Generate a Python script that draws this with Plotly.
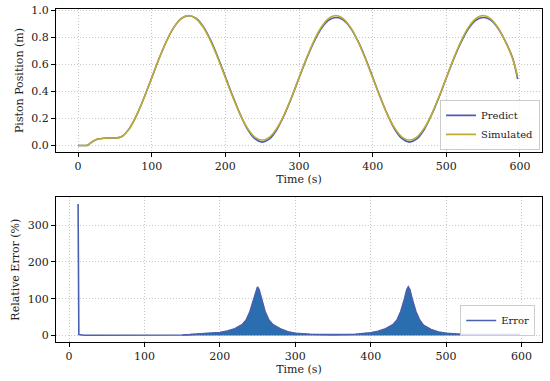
import plotly.graph_objects as go

# ---------------- data ----------------
time_pos = [0, 10, 13, 20, 25, 30, 40, 50, 55,
            60, 70, 80, 90, 100, 110, 120, 130, 140, 150,
            160, 170, 180, 190, 200, 210, 220, 230, 240, 250,
            260, 270, 280, 290, 300, 310, 320, 330, 340, 350,
            360, 370, 380, 390, 400, 410, 420, 430, 440, 450,
            460, 470, 480, 490, 500, 510, 520, 530, 540, 550,
            560, 570, 580, 590, 597]

simulated = [0.0, 0.0, 0.002, 0.030, 0.045, 0.050, 0.055, 0.055, 0.058,
             0.068, 0.128, 0.230, 0.358, 0.500, 0.642, 0.770, 0.872, 0.937, 0.960,
             0.937, 0.872, 0.770, 0.642, 0.500, 0.358, 0.230, 0.128, 0.062, 0.040,
             0.062, 0.128, 0.230, 0.358, 0.500, 0.642, 0.770, 0.872, 0.937, 0.960,
             0.937, 0.872, 0.770, 0.642, 0.500, 0.358, 0.230, 0.128, 0.062, 0.040,
             0.062, 0.128, 0.230, 0.358, 0.500, 0.642, 0.770, 0.872, 0.937, 0.960,
             0.937, 0.872, 0.770, 0.642, 0.510]

predict = [0.0, 0.0, 0.002, 0.030, 0.045, 0.050, 0.055, 0.055, 0.058,
           0.068, 0.128, 0.230, 0.358, 0.500, 0.642, 0.770, 0.872, 0.937, 0.958,
           0.940, 0.878, 0.778, 0.650, 0.508, 0.365, 0.232, 0.122, 0.050, 0.025,
           0.048, 0.118, 0.225, 0.355, 0.498, 0.638, 0.762, 0.862, 0.925, 0.945,
           0.928, 0.868, 0.772, 0.648, 0.506, 0.362, 0.230, 0.120, 0.050, 0.025,
           0.048, 0.118, 0.225, 0.355, 0.498, 0.638, 0.762, 0.862, 0.925, 0.945,
           0.928, 0.868, 0.772, 0.648, 0.490]

time_err = [12, 13, 20, 50, 100, 150, 160, 180, 200, 210, 220, 230, 235, 240,
            245, 248, 250, 252, 255, 260, 265, 270, 280, 290, 300, 320, 350,
            380, 400, 410, 420, 430, 435, 440, 445, 448, 450, 452, 455, 460,
            465, 470, 480, 490, 500, 520, 550, 580, 598]
rel_error = [358, 2, 0.5, 0.3, 0.3, 1, 2, 4, 8, 12, 18, 30, 42, 65,
             100, 125, 132, 125, 100, 65, 42, 30, 18, 10, 6, 3, 2,
             3, 7, 11, 18, 30, 42, 65, 100, 125, 132, 125, 100, 65,
             42, 28, 16, 9, 6, 3, 2, 2, 2]

x_ticks = [0, 100, 200, 300, 400, 500, 600]
pos_ticks = [0.0, 0.2, 0.4, 0.6, 0.8, 1.0]
err_ticks = [0, 100, 200, 300]

# ---------------- styles ----------------
FONT = "DejaVu Serif"
BLUE = "#4a5fae"
OLIVE = "#c0ac2e"
FILL = "#2b6eb0"
FS = 11

fig = go.Figure()

fig.add_trace(go.Scatter(x=time_pos, y=predict, mode="lines", name="Predict",
                         line=dict(color=BLUE, width=1.6, shape="spline", smoothing=0.8),
                         xaxis="x", yaxis="y", legend="legend"))
fig.add_trace(go.Scatter(x=time_pos, y=simulated, mode="lines", name="Simulated",
                         line=dict(color=OLIVE, width=1.6, shape="spline", smoothing=0.8),
                         xaxis="x", yaxis="y", legend="legend"))

fill_start = time_err.index(150)
fig.add_trace(go.Scatter(x=time_err[fill_start:], y=rel_error[fill_start:], mode="lines",
                         fill="tozeroy", fillcolor=FILL, line=dict(color=FILL, width=0.5),
                         showlegend=False, xaxis="x2", yaxis="y2", hoverinfo="skip"))
fig.add_trace(go.Scatter(x=time_err, y=rel_error, mode="lines", name="Error",
                         line=dict(color=BLUE, width=1.6),
                         xaxis="x2", yaxis="y2", legend="legend2"))

axis_common = dict(showline=True, linecolor="black", linewidth=1, mirror=True,
                   ticks="outside", ticklen=4, tickcolor="black", tickwidth=1,
                   showgrid=True, gridcolor="#c8c8c8", griddash="1px,2px", gridwidth=1,
                   zeroline=False, automargin=False,
                   tickfont=dict(family=FONT, size=FS, color="#222"))

title_font = dict(family=FONT, size=FS, color="#222")

fig.update_layout(
    width=550, height=381,
    margin=dict(l=56, r=8, t=9, b=39, autoexpand=False),
    paper_bgcolor="white", plot_bgcolor="white",
    font=dict(family=FONT, size=FS, color="#222"),
    xaxis=dict(domain=[0, 1], anchor="y", range=[-30, 630],
               tickvals=x_ticks,
               title=dict(text="Time (s)", standoff=3, font=title_font),
               **axis_common),
    yaxis=dict(domain=[0.5706, 1], anchor="x", range=[-0.048, 1.008],
               tickvals=pos_ticks, tickformat=".1f",
               title=dict(text="Piston Position (m)", standoff=5, font=title_font),
               **axis_common),
    xaxis2=dict(domain=[0, 1], anchor="y2", range=[-17.3, 627.3],
                tickvals=x_ticks,
                title=dict(text="Time (s)", standoff=3, font=title_font),
                **axis_common),
    yaxis2=dict(domain=[0, 0.4345], anchor="x2", range=[-18, 376],
                tickvals=err_ticks,
                title=dict(text="Relative Error (%)", standoff=5, font=title_font),
                **axis_common),
    legend=dict(x=0.996, y=0.577, xanchor="right", yanchor="bottom",
                bgcolor="rgba(255,255,255,0.8)", bordercolor="#cccccc", borderwidth=1,
                font=dict(family=FONT, size=10), tracegroupgap=0, itemwidth=30),
    legend2=dict(x=0.986, y=0.018, xanchor="right", yanchor="bottom",
                 bgcolor="rgba(255,255,255,0.8)", bordercolor="#cccccc", borderwidth=1,
                 font=dict(family=FONT, size=10), itemwidth=30),
)

fig.write_html("out.html", config={"displayModeBar": False},
               post_script="document.body.style.margin='0';document.body.style.padding='0';")
